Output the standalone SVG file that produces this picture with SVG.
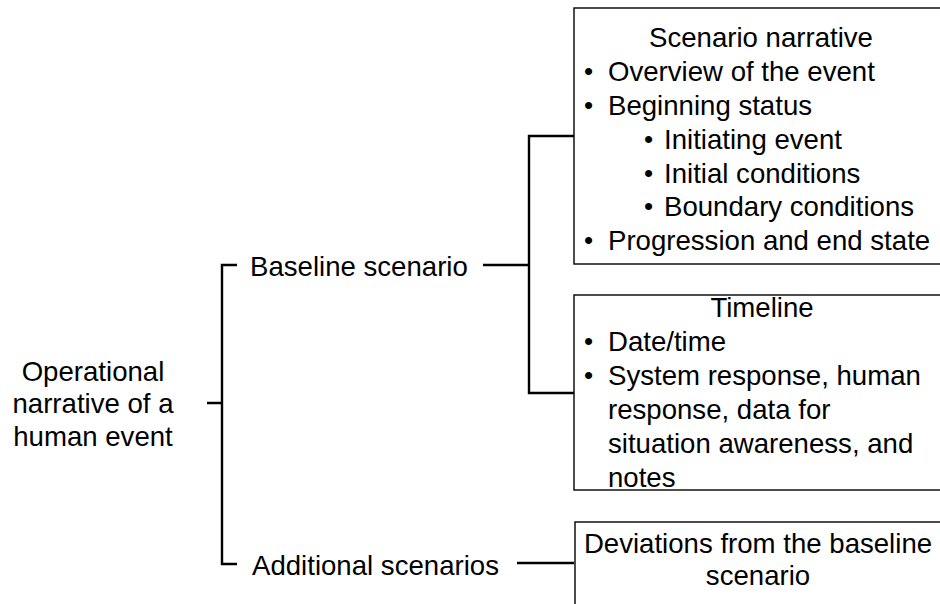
<svg xmlns="http://www.w3.org/2000/svg" width="940" height="604" viewBox="0 0 940 604">
  <style>
    text { font-family: "Liberation Sans", Arial, sans-serif; font-size: 27.6px; fill: #000; }
    .mid { text-anchor: middle; }
    .dot { font-size: 26px; }
    .box { fill: #fff; stroke: #000; stroke-width: 1.4; }
    .link { fill: none; stroke: #000; stroke-width: 2.4; }
  </style>
  <rect width="940" height="604" fill="#fff"/>

  <g id="connectors">
    <!-- root bracket -->
    <path class="link" d="M207 403 H222 M237 265 H222 V564 H237"/>
    <!-- baseline scenario branch -->
    <path class="link" d="M483 265 H529 M574 136 H529 V393 H574"/>
    <!-- additional scenarios branch -->
    <path class="link" d="M517 563 H574"/>
  </g>

  <g id="root">
    <text class="mid" x="93" y="381">Operational</text>
    <text class="mid" x="93" y="413">narrative of a</text>
    <text class="mid" x="93" y="446">human event</text>
  </g>

  <g id="baseline">
    <text x="250" y="276">Baseline scenario</text>
  </g>

  <g id="additional">
    <text x="252" y="575">Additional scenarios</text>
  </g>

  <g id="narrative">
    <rect class="box" x="574" y="8" width="380" height="256"/>
    <text class="mid" x="761" y="47">Scenario narrative</text>
    <text class="dot" x="584" y="80">•</text><text x="608" y="81">Overview of the event</text>
    <text class="dot" x="584" y="114">•</text><text x="608" y="115">Beginning status</text>
    <text class="dot" x="644" y="148">•</text><text x="664" y="149">Initiating event</text>
    <text class="dot" x="644" y="182">•</text><text x="664" y="183">Initial conditions</text>
    <text class="dot" x="644" y="215">•</text><text x="664" y="216">Boundary conditions</text>
    <text class="dot" x="584" y="249">•</text><text x="608" y="250">Progression and end state</text>
  </g>

  <g id="timeline">
    <rect class="box" x="574" y="295" width="380" height="195"/>
    <text class="mid" x="762" y="317">Timeline</text>
    <text class="dot" x="584" y="350">•</text><text x="608" y="351">Date/time</text>
    <text class="dot" x="584" y="384">•</text><text x="608" y="385">System response, human</text>
    <text x="608" y="419">response, data for</text>
    <text x="608" y="453">situation awareness, and</text>
    <text x="608" y="487">notes</text>
  </g>

  <g id="deviations">
    <rect class="box" x="575" y="522" width="380" height="100"/>
    <text class="mid" x="758" y="553">Deviations from the baseline</text>
    <text class="mid" x="758" y="585">scenario</text>
  </g>
</svg>
